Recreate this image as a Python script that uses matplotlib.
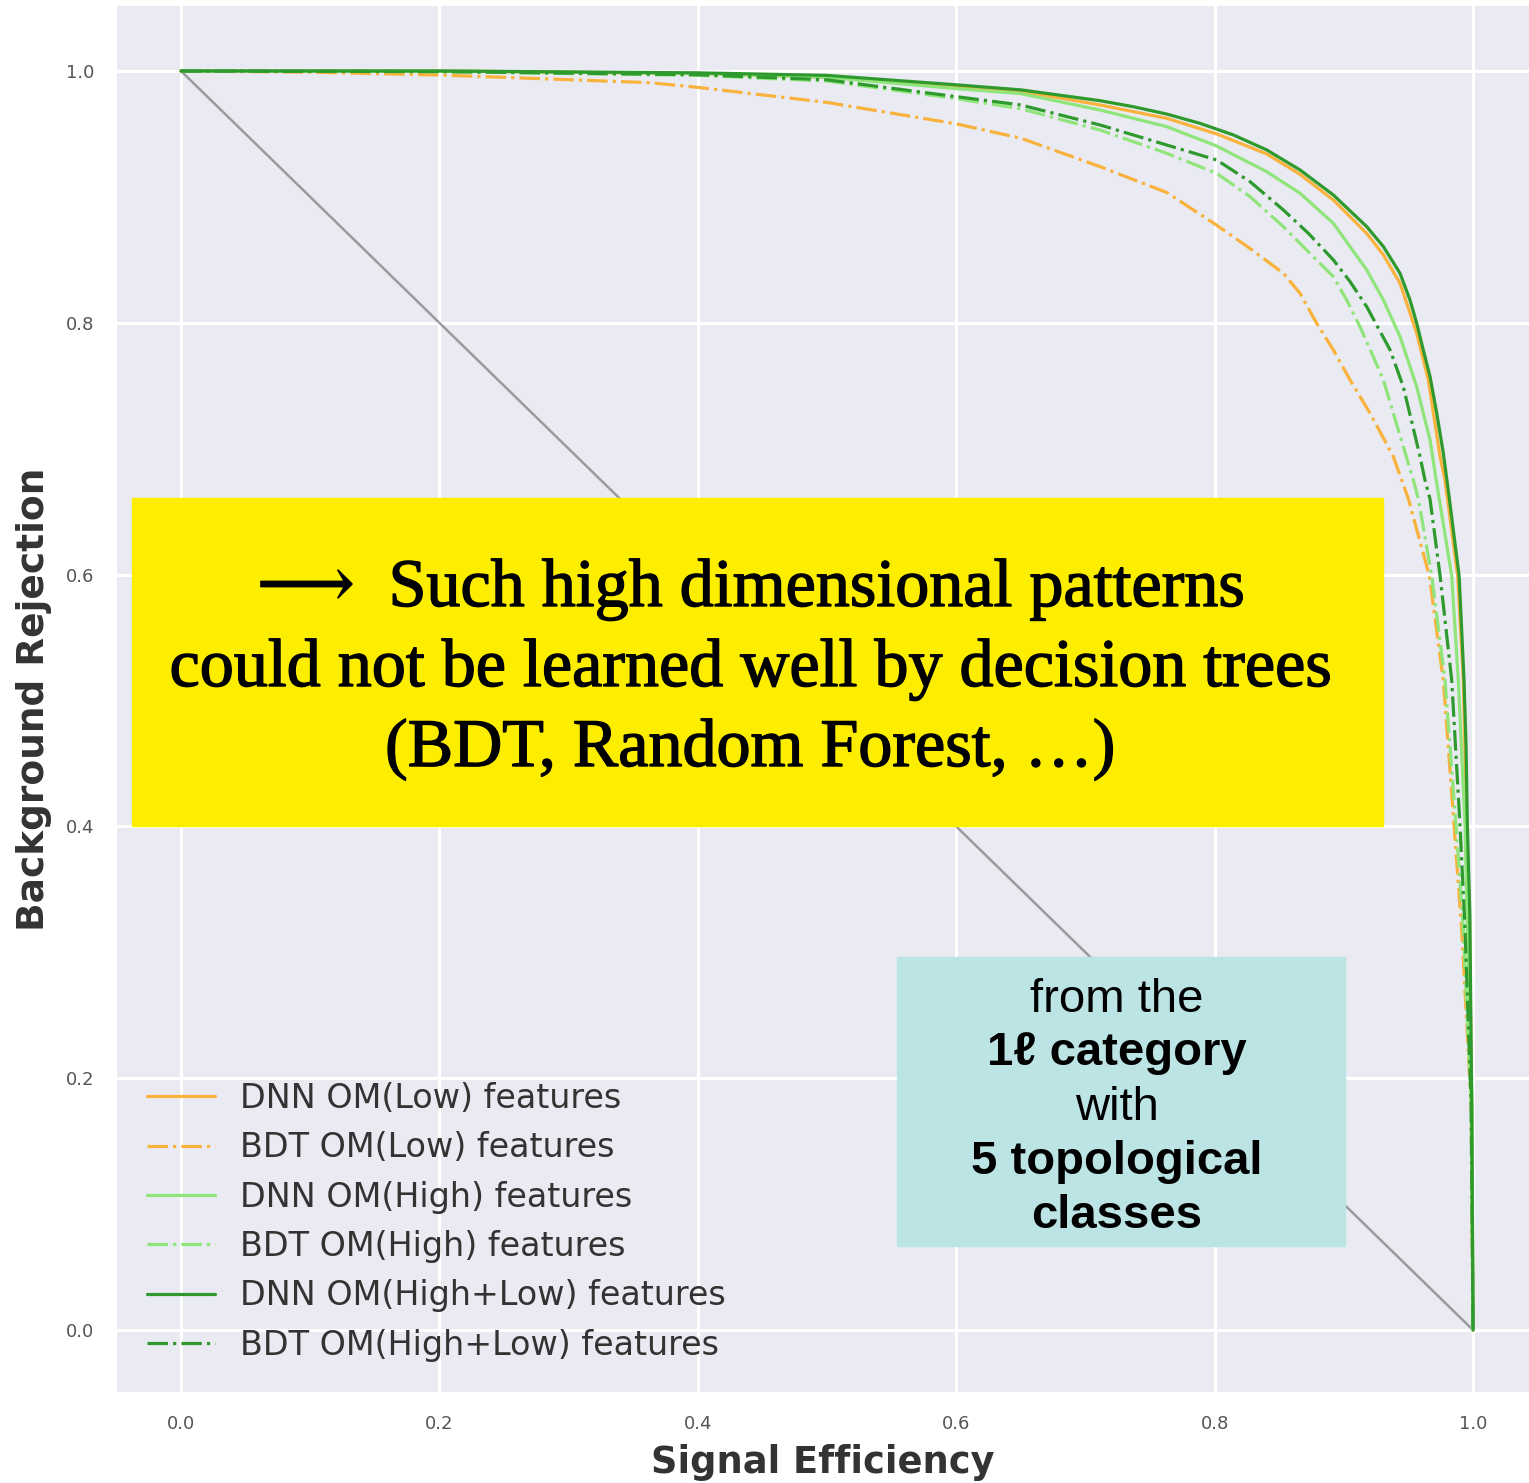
import numpy as np
import matplotlib.pyplot as plt
import matplotlib.patheffects as pe
import seaborn as sns
from matplotlib.patches import Rectangle

# ROC curves: signal efficiency (x) vs background rejection (y)
dnn_low_eff = [0.0, 0.2, 0.4, 0.5, 0.6, 0.65, 0.7113, 0.7629, 0.8016, 0.8403, 0.8661, 0.8919, 0.9177, 0.9306,
               0.9435, 0.9564, 0.9654, 0.9745, 0.9783, 0.9881, 0.9925, 0.9951, 0.9972, 0.9988, 1.0]
dnn_low_rej = [1.0, 1.0, 0.998, 0.995, 0.9875, 0.984, 0.973, 0.9624, 0.950, 0.9341, 0.9179, 0.8975, 0.871, 0.8539,
               0.8314, 0.7917, 0.7546, 0.6937, 0.675, 0.599, 0.516, 0.4006, 0.33, 0.18, 0.0]

bdt_low_eff = [0.0, 0.1, 0.2, 0.363, 0.4, 0.5, 0.6, 0.65, 0.7113, 0.7629, 0.8016, 0.8274, 0.8532, 0.8661, 0.879,
               0.8919, 0.9048, 0.9203, 0.9383, 0.9448, 0.950, 0.9662, 0.977, 0.9853, 0.9912, 0.9985, 1.0]
bdt_low_rej = [1.0, 0.999, 0.9968, 0.9907, 0.987, 0.975, 0.958, 0.9466, 0.924, 0.9035, 0.8775, 0.859, 0.8393, 0.8234,
               0.7996, 0.7784, 0.7546, 0.7282, 0.6937, 0.675, 0.66, 0.599, 0.516, 0.401, 0.318, 0.18, 0.0]

dnn_high_eff = [0.0, 0.2, 0.4, 0.5, 0.6, 0.65, 0.7113, 0.7629, 0.8016, 0.8403, 0.8661, 0.8919, 0.9048, 0.9177, 0.9306,
                0.9435, 0.9564, 0.9667, 0.9715, 0.9835, 0.9886, 0.9938, 0.9956, 0.9992, 1.0]
dnn_high_rej = [1.0, 1.0, 0.998, 0.995, 0.986, 0.982, 0.969, 0.9558, 0.9404, 0.920, 0.9029, 0.879, 0.8605, 0.842, 0.8181,
                0.789, 0.7493, 0.7069, 0.675, 0.599, 0.516, 0.4006, 0.3177, 0.18, 0.0]

bdt_high_eff = [0.0, 0.2, 0.4, 0.5, 0.6, 0.65, 0.7113, 0.7629, 0.8016, 0.8274, 0.8532, 0.8725, 0.8919, 0.9022, 0.9125,
                0.9216, 0.9306, 0.9538, 0.9577, 0.968, 0.9783, 0.9868, 0.9925, 0.9985, 1.0]
bdt_high_rej = [1.0, 0.9995, 0.9965, 0.992, 0.978, 0.970, 0.9531, 0.9346, 0.9187, 0.9002, 0.8763, 0.8565, 0.8366, 0.8181,
                0.7969, 0.7758, 0.7546, 0.675, 0.66, 0.599, 0.516, 0.401, 0.318, 0.18, 0.0]

dnn_hl_eff = [0.0, 0.2, 0.4, 0.5, 0.6, 0.65, 0.7113, 0.7371, 0.7629, 0.7887, 0.8145, 0.8403, 0.8661, 0.8919, 0.9177,
              0.9306, 0.9435, 0.9512, 0.9564, 0.9615, 0.9667, 0.9719, 0.977, 0.9817, 0.9892, 0.9912, 0.993, 0.9946,
              0.9956, 0.9975, 0.999, 1.0]
dnn_hl_rej = [1.0, 1.0, 0.9985, 0.9965, 0.989, 0.985, 0.9764, 0.9716, 0.9658, 0.9584, 0.9492, 0.9373, 0.9214, 0.9015,
              0.8764, 0.8605, 0.8393, 0.8181, 0.7996, 0.7784, 0.7573, 0.7282, 0.6964, 0.66, 0.5991, 0.556, 0.5163,
              0.4633, 0.4006, 0.33, 0.18, 0.0]

bdt_hl_eff = [0.0, 0.2, 0.4, 0.5, 0.6, 0.65, 0.7113, 0.7629, 0.8016, 0.8274, 0.8532, 0.8725, 0.8919, 0.9048, 0.9177,
              0.9358, 0.946, 0.959, 0.9628, 0.9667, 0.9745, 0.9835, 0.9899, 0.9938, 0.9985, 1.0]
bdt_hl_rej = [1.0, 0.9995, 0.997, 0.993, 0.9796, 0.973, 0.9571, 0.9412, 0.9293, 0.9121, 0.8896, 0.8711, 0.8499, 0.8327,
              0.8128, 0.7784, 0.7493, 0.6937, 0.675, 0.66, 0.599, 0.516, 0.401, 0.318, 0.18, 0.0]

# random-guess line
diag_eff = [0.0, 1.0]
diag_rej = [1.0, 0.0]

labels = ["DNN OM(Low) features", "BDT OM(Low) features",
          "DNN OM(High) features", "BDT OM(High) features",
          "DNN OM(High+Low) features", "BDT OM(High+Low) features"]

sns.set_style("darkgrid")
plt.rcParams["font.family"] = ["DejaVu Sans"]

W, H = 1529, 1483
fig = plt.figure(figsize=(W / 100, H / 100), dpi=100)
ax = fig.add_axes([117 / W, (H - 1392) / H, (W - 117) / W, (1392 - 6) / H])

ax.plot(diag_eff, diag_rej, color="gray", alpha=0.75, lw=1.8)

orange = "#f9b23c"
light = "#8fe57a"
dark = "#2e9a2e"
lw = 2.3
ax.plot(dnn_low_eff, dnn_low_rej, color=orange, lw=lw, label=labels[0])
ax.plot(bdt_low_eff, bdt_low_rej, color=orange, lw=lw, ls="-.", label=labels[1])
ax.plot(dnn_high_eff, dnn_high_rej, color=light, lw=lw, label=labels[2])
ax.plot(bdt_high_eff, bdt_high_rej, color=light, lw=lw, ls="-.", label=labels[3])
ax.plot(dnn_hl_eff, dnn_hl_rej, color=dark, lw=lw, label=labels[4])
ax.plot(bdt_hl_eff, bdt_hl_rej, color=dark, lw=lw, ls="-.", label=labels[5])

ax.set_xlim(-0.0495, 1.0433)
ax.set_ylim(-0.0492, 1.0516)
ax.set_xticks(np.arange(0, 1.01, 0.2))
ax.set_yticks(np.arange(0, 1.01, 0.2))
ax.tick_params(labelsize=13, labelcolor="#555555", pad=13)
for s in ax.spines.values():
    s.set_visible(False)
ax.grid(color="white", lw=2.2)

ax.set_xlabel("Signal Efficiency", fontsize=26.5, fontweight="bold", color="#333333", labelpad=8)
ax.set_ylabel("Background Rejection", fontsize=27, fontweight="bold", color="#333333", labelpad=10)

leg = ax.legend(loc="lower left", bbox_to_anchor=(0.021, 0.022), frameon=False,
                fontsize=24, handlelength=2.04, handletextpad=0.75,
                labelspacing=0.49, borderpad=0, borderaxespad=0)
for t in leg.get_texts():
    t.set_color("#333333")

# yellow note box
fig.add_artist(Rectangle((132 / W, 1 - 826 / H), (1383 - 132) / W, (826 - 498) / H,
                         transform=fig.transFigure, color="#fdee00", zorder=5))
serif = ["Liberation Serif", "DejaVu Serif", "DejaVu Sans"]
note = ["\u27f6  Such high dimensional patterns",
        "could not be learned well by decision trees",
        "(BDT, Random Forest, \u2026)"]
thick = [pe.withStroke(linewidth=1.0, foreground="black")]
for line, base in zip(note, [606, 686, 766]):
    fig.text(750 / W, 1 - base / H, line, ha="center", va="baseline",
             fontsize=49, family=serif, color="black", zorder=6, path_effects=thick)

# cyan box
fig.add_artist(Rectangle((897 / W, 1 - 1246 / H), (1345 - 897) / W, (1246 - 957) / H,
                         transform=fig.transFigure, color="#bce4e4", zorder=5))
sans = ["Liberation Sans", "DejaVu Sans"]
box_lines = [("from the", "normal", 1012), ("1\u2113 category", "bold", 1065),
             ("with", "normal", 1120), ("5 topological", "bold", 1174),
             ("classes", "bold", 1228)]
for line, wt, base in box_lines:
    fig.text(1117 / W, 1 - base / H, line, ha="center", va="baseline",
             fontsize=34, fontweight=wt, family=sans, color="black", zorder=6)

fig.savefig("out.png", dpi=100)
